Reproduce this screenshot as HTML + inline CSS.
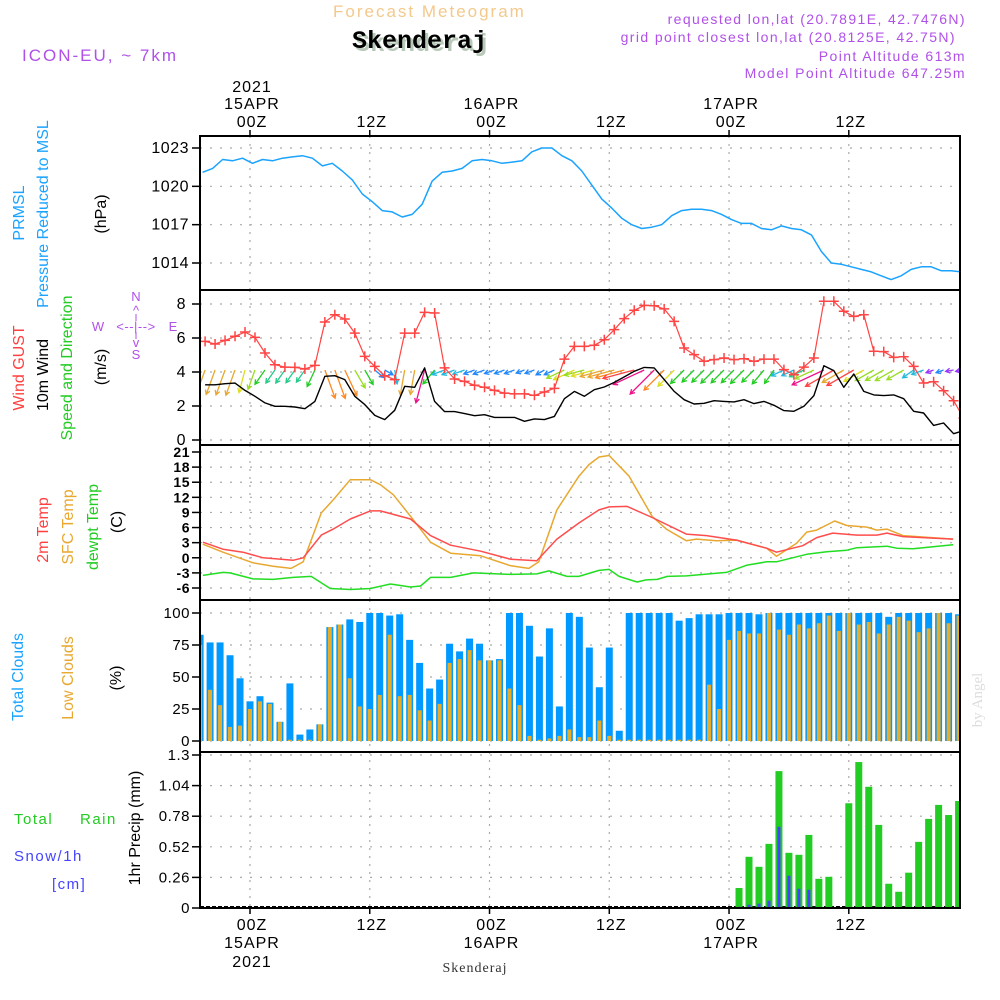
<!DOCTYPE html>
<html><head><meta charset="utf-8"><title>Skenderaj Meteogram</title>
<style>
html,body{margin:0;padding:0;background:#fff;width:1000px;height:1000px;overflow:hidden}
svg text{font-family:"Liberation Sans",sans-serif}
</style></head>
<body>
<svg id="chart" width="1000" height="1000" viewBox="0 0 1000 1000" xmlns="http://www.w3.org/2000/svg">
<rect x="0" y="0" width="1000" height="1000" fill="#fff"/>
<text x="333" y="17" font-size="17" fill="#f3c98c" letter-spacing="2">Forecast Meteogram</text>
<text x="355" y="51" font-size="25" font-weight="bold" fill="#b9c9b9" style="font-family:'Liberation Mono',monospace">Skenderaj</text>
<text x="352" y="48" font-size="25" font-weight="bold" fill="#000" style="font-family:'Liberation Mono',monospace">Skenderaj</text>
<text x="22" y="61" font-size="17" fill="#b050e8" letter-spacing="2">ICON-EU, ~ 7km</text>
<g font-size="14" fill="#b050e8" text-anchor="end" letter-spacing="1.4">
<text x="966" y="24">requested lon,lat (20.7891E, 42.7476N)</text>
<text x="956" y="42">grid point closest lon,lat (20.8125E, 42.75N)</text>
<text x="966" y="61">Point Altitude 613m</text>
<text x="966" y="78">Model Point Altitude 647.25m</text>
</g>
<g font-size="16" text-anchor="middle">
<text transform="translate(24,213) rotate(-90)" fill="#1aa3ff">PRMSL</text>
<text transform="translate(48,214) rotate(-90)" fill="#1aa3ff">Pressure Reduced to MSL</text>
<text transform="translate(106,214) rotate(-90)" fill="#000">(hPa)</text>
<text transform="translate(24,368) rotate(-90)" fill="#ff4040">Wind GUST</text>
<text transform="translate(48,375) rotate(-90)" fill="#000">10m Wind</text>
<text transform="translate(72,368) rotate(-90)" fill="#22cc22">Speed and Direction</text>
<text transform="translate(106,367) rotate(-90)" fill="#000">(m/s)</text>
<text transform="translate(48,530) rotate(-90)" fill="#ff4040">2m Temp</text>
<text transform="translate(73,527) rotate(-90)" fill="#e8a830">SFC Temp</text>
<text transform="translate(98,527) rotate(-90)" fill="#22cc22">dewpt Temp</text>
<text transform="translate(122,522) rotate(-90)" fill="#000">(C)</text>
<text transform="translate(23,677) rotate(-90)" fill="#1aa3ff">Total Clouds</text>
<text transform="translate(73,678) rotate(-90)" fill="#e8a830">Low Clouds</text>
<text transform="translate(121,678) rotate(-90)" fill="#000">(%)</text>
<text transform="translate(140,828) rotate(-90)" fill="#000">1hr Precip (mm)</text>
</g>
<text x="14" y="824" font-size="15" fill="#22cc22" letter-spacing="1.5">Total<tspan x="80">Rain</tspan></text>
<text x="14" y="861" font-size="15" fill="#4444ff" letter-spacing="1.5">Snow/1h</text>
<text x="52" y="889" font-size="15" fill="#4444ff" letter-spacing="1.5">[cm]</text>
<g fill="#b050e8" font-size="13" text-anchor="middle">
<text x="136" y="301">N</text><text x="136" y="359">S</text>
<text x="98" y="331">W</text><text x="173" y="331">E</text>
<text x="136" y="331" letter-spacing="0.5">&lt;--|--&gt;</text>
<text x="136" y="315">^</text><text x="136" y="347">v</text>
<line x1="136" y1="314" x2="136" y2="321" stroke="#b050e8"/><line x1="136" y1="332" x2="136" y2="339" stroke="#b050e8"/>
</g>
<text transform="translate(982,700) rotate(-90)" font-size="15" fill="#dddddd" text-anchor="middle" style="font-family:'Liberation Serif',serif">by Angel</text>
<text x="475" y="972" font-size="14" fill="#333" text-anchor="middle" letter-spacing="1" style="font-family:'Liberation Serif',serif">Skenderaj</text>
<g id="plots"></g>
</svg>
<script>
const pressHourStart = -4.75;
const pressure = [1021.1,1021.4,1022.1,1022.0,1022.2,1021.8,1022.1,1022.0,1022.2,1022.3,1022.4,1022.2,1021.6,1021.8,1021.2,1020.5,1019.4,1018.8,1018.1,1018.0,1017.6,1017.8,1018.6,1020.4,1021.1,1021.2,1021.4,1022.0,1022.1,1022.0,1021.8,1021.9,1022.0,1022.7,1023.0,1023.0,1022.4,1022.0,1021.2,1020.1,1019.0,1018.3,1017.5,1017.0,1016.7,1016.8,1017.0,1017.7,1018.1,1018.2,1018.2,1018.1,1017.8,1017.4,1017.1,1017.1,1016.7,1016.6,1016.9,1016.7,1016.6,1016.2,1014.9,1014.0,1013.9,1013.7,1013.5,1013.3,1013.0,1012.7,1013.0,1013.5,1013.7,1013.7,1013.4,1013.4,1013.3];
const windHourStart = -4.5;
const windGust = [5.8,5.65,5.86,6.1,6.35,6.04,5.12,4.43,4.29,4.27,4.18,4.39,6.94,7.37,7.12,6.29,4.92,4.33,3.78,3.55,6.29,6.29,7.51,7.47,4.24,3.59,3.45,3.22,3.1,2.92,2.76,2.71,2.71,2.63,2.82,3.04,4.76,5.51,5.51,5.57,5.9,6.49,7.14,7.63,7.92,7.9,7.71,6.98,5.41,5.02,4.63,4.73,4.82,4.73,4.78,4.63,4.76,4.76,4.14,3.84,4.29,4.82,8.16,8.16,7.57,7.27,7.37,5.22,5.2,4.86,4.9,4.33,3.35,3.43,2.9,2.31,1.29];
const wind10m = [3.25,3.25,3.31,3.35,2.92,2.57,2.18,1.98,1.98,1.94,1.84,2.27,3.75,3.78,3.55,2.57,2.08,1.45,1.2,1.75,3.16,3.1,4.24,2.27,1.67,1.67,1.55,1.43,1.49,1.33,1.33,1.33,1.1,1.24,1.2,1.39,2.43,2.86,2.57,2.96,3.12,3.39,3.71,4.04,4.27,4.24,3.55,2.86,2.37,2.12,2.16,2.31,2.27,2.24,2.37,2.14,2.27,2.04,1.73,1.69,1.98,2.61,4.37,4.08,3.1,3.88,2.86,2.65,2.61,2.65,2.43,1.69,1.59,0.86,1.0,0.37,0.55];
const windDir = [20,20,20,20,15,20,35,35,35,35,35,25,340,340,335,330,330,310,300,350,10,10,15,40,70,70,70,70,70,70,70,70,70,70,60,65,65,65,75,75,75,75,75,75,65,45,45,45,45,45,45,45,45,45,45,45,40,35,65,65,65,65,65,60,60,60,60,60,60,60,60,55,70,70,70,80,80];
const t2mHours = [-4.72,-2.71,-0.7,1.31,4.32,5.33,7.14,8.34,10.05,12.06,13.07,16.08,18.09,20.1,23.12,26.13,28.74,30.75,32.96,34.97,35.98,37.79,40.3,43.72,45.73,48.74,51.76,52.76,55.38,56.78,58.39,60.8,62.81,63.82,65.43,70.45];
const t2m = [3.1,1.7,1.1,0,-0.5,0,4.5,5.7,7.7,9.3,9.3,7.7,4.4,2.5,1.3,-0.3,-0.6,3.7,6.9,9.5,10.1,10.2,8,4.7,4.4,3.5,1.9,1.1,2.4,4,4.9,4.5,4.5,4.9,4.2,3.7];
const sfcHours = [-4.72,-2.71,0.3,2.31,4.12,5.33,7.14,8.34,10.05,12.06,13.07,14.37,16.18,18.09,20.1,23.12,26.13,27.94,28.94,30.75,32.96,33.97,34.97,35.98,37.99,40.3,41.71,43.72,44.72,46.73,48.74,51.76,52.76,54.77,55.78,56.78,58.59,59.8,61.81,62.81,63.82,65.43,70.45];
const sfcTemp = [2.7,1.1,-1,-1.7,-2.1,-0.8,8.9,11.5,15.5,15.5,14.5,12.5,8,3.1,0.9,0.4,-1.6,-2.1,-0.8,9.5,16.2,18.5,20,20.3,16.2,8.2,5.7,3.4,3.7,3.4,3.5,1.9,0.3,2.9,5.1,5.5,7.3,6.4,6.1,5.5,5.7,4.4,3.7];
const dewHours = [-4.72,-2.71,-2.01,0.3,2.31,4.32,6.13,8.04,10.05,12.06,14.07,16.08,17.09,18.09,20.1,22.41,26.13,28.74,29.95,31.76,32.96,34.97,35.98,36.98,38.79,39.7,40.8,41.81,43.72,47.74,49.75,51.76,52.76,55.78,57.79,59.8,60.8,63.82,64.82,66.43,70.45];
const dewTemp = [-3.5,-2.9,-3,-4.2,-4.3,-3.9,-3.7,-6.1,-6.3,-6.1,-5.2,-5.8,-5.6,-3.9,-3.9,-3,-3.3,-3.2,-2.6,-3.7,-3.7,-2.5,-2.3,-3.7,-4.8,-4.4,-4.3,-3.7,-3.6,-2.9,-1.5,-0.8,-0.8,0.7,1.2,1.5,2,2.3,1.9,1.8,2.6];
const barHourStart = -5;
const totalClouds = [83,77,77,67,49,31,35,30,15,45,5,9,13,89,91,95,93,100,100,98,99,79,61,41,48,76,70,80,76,63,64,100,100,90,66,88,27,100,97,73,42,73,8,100,100,100,100,100,94,96,99,99,99,100,100,100,99,100,100,100,100,100,100,100,100,100,100,100,100,97,100,100,100,100,100,100,99];
const lowClouds = [75,40,28,11,12,25,31,29,15,1,1,1,13,89,91,49,27,25,36,83,35,36,24,16,29,61,64,71,63,63,63,41,28,4,1,2,4,9,3,3,16,4,1,1,1,1,1,1,1,1,1,44,25,79,86,84,84,100,87,83,91,88,92,98,86,100,91,93,84,91,97,94,85,88,100,92,98];
const precipHourStart = 49;
const totalPrecip = [0.17,0.435,0.35,0.545,1.163,0.469,0.452,0.621,0.248,0.265,0,0.89,1.24,1.03,0.706,0.206,0.138,0.30,0.562,0.757,0.876,0.79,0.909];
const snowPrecip = [0.01,0.028,0.037,0.062,0.69,0.274,0.164,0.155,0,0,0,0,0,0,0,0,0,0,0,0,0,0,0];
const pressTicks = [1023,1020,1017,1014];
const windTicks = [8,6,4,2,0];
const tempTicks = [21,18,15,12,9,6,3,0,-3,-6];
const cloudTicks = [100,75,50,25,0];
const precipTicks = ["1.3","1.04","0.78","0.52","0.26","0"];
const timeTicks = [0,12,24,36,48,60];
const timeLabels = ["00Z","12Z","00Z","12Z","00Z","12Z"];
const dateLabels = ["15APR","","16APR","","17APR",""];

const L=200,R=960;
const X = h => 250 + 9.98*h;
const lin = (v0,y0,v1,y1) => v => y0 + (v-v0)*(y1-y0)/(v1-v0);
const yP = lin(1023,148,1014,263);
const yW = lin(8,304,0,440);
const yT = lin(21,452,-6,588);
const yC = lin(100,613,0,741);
const yR = lin(1.3,755,0,908);
const panels = [[136,290],[290,445],[445,600],[600,752],[752,908]];

const NS="http://www.w3.org/2000/svg";
const root=document.getElementById('plots');
function mk(tag,attrs,parent){const e=document.createElementNS(NS,tag);for(const k in attrs)e.setAttribute(k,attrs[k]);(parent||root).appendChild(e);return e;}
function grp(name){const g=mk('g',{});return g;}

const defs=mk('defs',{});
const cp=mk('clipPath',{id:'plotclip'},defs);
mk('rect',{x:L,y:130,width:R-L,height:780},cp);

const grid=grp('grid');
timeTicks.forEach(h=>{
  panels.forEach(p=>{
    const l=mk('line',{x1:X(h),x2:X(h),y1:p[0],y2:p[1],stroke:'#aaa','stroke-width':1.2,'stroke-dasharray':'2,6'},grid);
    
    
  });
});
function hgrid(ticks,scale,name){
  ticks.forEach(t=>{
    const l=mk('line',{x1:L,x2:R,y1:scale(+t),y2:scale(+t),stroke:'#aaa','stroke-width':1.2,'stroke-dasharray':'2,8'},grid);
    
    
  });
}
hgrid(pressTicks,yP,'pressure');hgrid(windTicks,yW,'wind');hgrid(tempTicks,yT,'temp');hgrid(cloudTicks,yC,'cloud');hgrid(precipTicks,yR,'precip');

function yAxis(ticks,scale,name,xr,fs,fw){
  const g=grp(name+'-axis');
  ticks.forEach(t=>{
    const y=scale(+t);
    const tk=mk('line',{x1:192,x2:L,y1:y,y2:y,stroke:'#000','stroke-width':1.5},g);
    
    
    const tx=mk('text',{x:xr,y:y+5,'font-size':fs,'font-weight':fw||'normal','text-anchor':'end',fill:'#000','letter-spacing':'0.5'},g);
    tx.textContent=String(t);
    
    
  });
}
yAxis(pressTicks,yP,'pressure',189,16);
yAxis(windTicks,yW,'wind',186,16);
yAxis(tempTicks,yT,'temp',190,14,'bold');
yAxis(cloudTicks,yC,'cloud',190,15);
yAxis(precipTicks,yR,'precip',190,15);

const tl=grp('time-axis-labels');
timeTicks.forEach((h,i)=>{
  const x=X(h);
  [[136,130],[908,914]].forEach(p=>{const t=mk('line',{x1:x,x2:x,y1:p[0],y2:p[1],stroke:'#000','stroke-width':1.5},tl);});
  const a=mk('text',{x:x+2,y:127,'font-size':16,'text-anchor':'middle','letter-spacing':'1',fill:'#000'},tl);a.textContent=timeLabels[i];
  
  const b=mk('text',{x:x+2,y:930,'font-size':16,'text-anchor':'middle','letter-spacing':'1',fill:'#000'},tl);b.textContent=timeLabels[i];
  
  if(dateLabels[i]){
    const c=mk('text',{x:x+2,y:109,'font-size':16,'text-anchor':'middle','letter-spacing':'1',fill:'#000'},tl);c.textContent=dateLabels[i];
    
    const d=mk('text',{x:x+2,y:948,'font-size':16,'text-anchor':'middle','letter-spacing':'1',fill:'#000'},tl);d.textContent=dateLabels[i];
    
  }
  if(i===0){
    const e=mk('text',{x:x+2,y:92,'font-size':16,'text-anchor':'middle','letter-spacing':'1',fill:'#000'},tl);e.textContent='2021';
    
    const f=mk('text',{x:x+2,y:967,'font-size':16,'text-anchor':'middle','letter-spacing':'1',fill:'#000'},tl);f.textContent='2021';
    
  }
});

const marks=mk('g',{'clip-path':'url(#plotclip)'});



function poly(hours,vals,scale,color,name,w){
  const pts=vals.map((v,i)=>X(hours[i]).toFixed(1)+','+scale(v).toFixed(1)).join(' ');
  const p=mk('polyline',{points:pts,fill:'none',stroke:color,'stroke-width':w||1.5,'stroke-linejoin':'round'},marks);
  
  
}
const hrs=(start,n)=>Array.from({length:n},(_,i)=>start+i);

poly(hrs(pressHourStart,pressure.length),pressure,yP,'#1aa3ff','pressure-line');

totalClouds.forEach((v,i)=>{
  const x=X(barHourStart+i);
  const b=mk('rect',{x:x-3.5,y:yC(v),width:7,height:yC(0)-yC(v),fill:'#0099ff'},marks);
  
  
});
lowClouds.forEach((v,i)=>{
  const x=X(barHourStart+i);
  const b=mk('rect',{x:x-2,y:yC(v),width:4,height:yC(0)-yC(v),fill:'#e6ad2c'},marks);
  
  
});

const base=mk('line',{x1:L,x2:R,y1:yR(0)-1,y2:yR(0)-1,stroke:'#000','stroke-width':2,'stroke-dasharray':'4,2'},marks);


totalPrecip.forEach((v,i)=>{
  if(v<=0)return;
  const x=X(precipHourStart+i);
  const b=mk('rect',{x:x-3.5,y:yR(v),width:7,height:yR(0)-yR(v),fill:'#22cc22'},marks);
  
  
});
snowPrecip.forEach((v,i)=>{
  if(v<=0)return;
  const x=X(precipHourStart+i);
  const b=mk('rect',{x:x-1.5,y:yR(v),width:3,height:yR(0)-yR(v),fill:'#4444ff'},marks);
  
  
});

poly(dewHours,dewTemp,yT,'#22dd22','dewpoint-line');
poly(sfcHours,sfcTemp,yT,'#e8a830','sfc-temp-line');
poly(t2mHours,t2m,yT,'#ff4d4d','temp-2m-line');

function speedColor(s){
  if(s<0.9)return '#9933ff';
  if(s<1.5)return '#2288ff';
  if(s<1.8)return '#22bbdd';
  if(s<2.0)return '#22cc88';
  if(s<2.4)return '#22cc22';
  if(s<2.7)return '#99dd22';
  if(s<3.0)return '#dddd22';
  if(s<3.5)return '#e8a830';
  if(s<3.8)return '#ff8822';
  if(s<4.1)return '#ff4444';
  return '#ee1188';
}
windDir.forEach((d,i)=>{
  const s=wind10m[i];
  const x0=X(windHourStart+i), y0=370;
  const L2=Math.max(8,s*8);
  const r=d*Math.PI/180;
  const dx=-Math.sin(r)*L2, dy=Math.cos(r)*L2;
  const x1=x0+dx,y1=y0+dy;
  const ang=Math.atan2(dy,dx);
  const hl=5;
  const c=speedColor(s);
  const p=mk('path',{d:`M${x0.toFixed(1)},${y0} L${x1.toFixed(1)},${y1.toFixed(1)} M${(x1-hl*Math.cos(ang-0.5)).toFixed(1)},${(y1-hl*Math.sin(ang-0.5)).toFixed(1)} L${x1.toFixed(1)},${y1.toFixed(1)} L${(x1-hl*Math.cos(ang+0.5)).toFixed(1)},${(y1-hl*Math.sin(ang+0.5)).toFixed(1)}`,fill:'none',stroke:c,'stroke-width':1.3},marks);
  
  
});
poly(hrs(windHourStart,wind10m.length),wind10m,yW,'#000','wind-10m-line',1.4);
poly(hrs(windHourStart,windGust.length),windGust,yW,'#ff4444','wind-gust-line',1.2);
windGust.forEach((v,i)=>{
  const x=X(windHourStart+i),y=yW(v);
  const m=mk('path',{d:`M${x-5},${y} H${x+5} M${x},${y-5} V${y+5}`,stroke:'#ff4444','stroke-width':1.5},marks);
  
  
});

const fr=grp('panel-frames');
const names=['pressure-panel','wind-panel','temp-panel','cloud-panel','precip-panel'];
panels.forEach((p,i)=>{
  const r=mk('rect',{x:L,y:p[0],width:R-L,height:p[1]-p[0],fill:'none',stroke:'#000','stroke-width':2},fr);
  
  
});
</script>
</body></html>
